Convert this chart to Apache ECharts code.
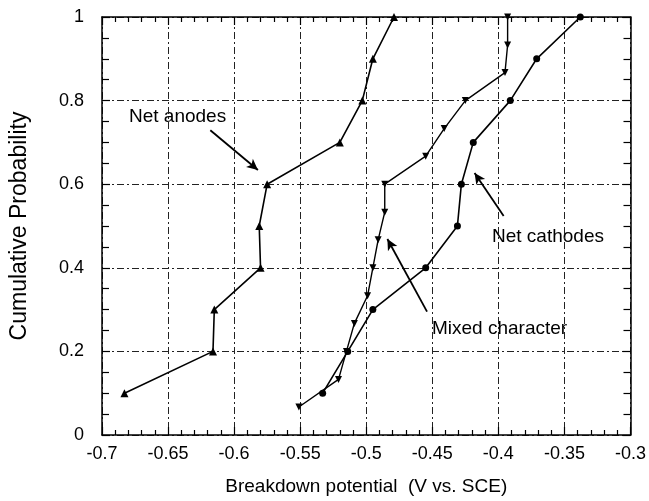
<!DOCTYPE html>
<html>
<head>
<meta charset="utf-8">
<script src="https://cdn.jsdelivr.net/npm/echarts@6/dist/echarts.min.js"></script>
<style>html,body{margin:0;padding:0;background:#fff}#c{width:649px;height:501px}</style>
</head>
<body>
<div id="c"></div>
<script>
// ---- data ----
const anodesX = [-0.683, -0.616, -0.615, -0.580, -0.581, -0.575, -0.520, -0.503, -0.495, -0.479];
const anodesY = [0.1, 0.2, 0.3, 0.4, 0.5, 0.6, 0.7, 0.8, 0.9, 1.0];
const mixedX = [-0.551, -0.521, -0.515, -0.509, -0.499, -0.495, -0.491, -0.486, -0.486, -0.455, -0.441, -0.425, -0.395, -0.393, -0.393];
const mixedY = [0.067, 0.133, 0.2, 0.267, 0.333, 0.4, 0.467, 0.533, 0.6, 0.667, 0.733, 0.8, 0.867, 0.933, 1.0];
const cathodesX = [-0.533, -0.514, -0.495, -0.455, -0.431, -0.428, -0.419, -0.391, -0.371, -0.338];
const cathodesY = [0.1, 0.2, 0.3, 0.4, 0.5, 0.6, 0.7, 0.8, 0.9, 1.0];
const xTickLabels = ['-0.7','-0.65','-0.6','-0.55','-0.5','-0.45','-0.4','-0.35','-0.3'];
const yTickLabels = ['0','0.2','0.4','0.6','0.8','1'];
const xTitle = 'Breakdown potential  (V vs. SCE)';
const yTitle = 'Cumulative Probability';
// annotation arrows (data coordinates: from -> to)
const arrowAnodes = [[-0.618, 0.729], [-0.582, 0.634]];
const arrowCathodes = [[-0.396, 0.524], [-0.418, 0.627]];
const arrowMixed = [[-0.454, 0.295], [-0.484, 0.469]];

const zip = (xs, ys) => xs.map((x, i) => [x, ys[i]]);
const FONT = '"Liberation Sans", Arial, sans-serif';
const fmtX = v => String(+(+v).toFixed(2));
const fmtY = v => String(+(+v).toFixed(2));
const gridDash = [7, 3, 2, 3];

const chart = echarts.init(document.getElementById('c'), null, {renderer: 'canvas'});
const baseX = {
  type: 'value', min: -0.7, max: -0.3, interval: 0.05,
  axisLine: {show: true, onZero: false, lineStyle: {color: '#000', width: 1.5}},
  axisTick: {show: true, inside: true, length: 8, lineStyle: {color: '#000', width: 1.2}},
  minorTick: {show: true, splitNumber: 5, length: 5, lineStyle: {color: '#000', width: 1.2}},
};
const baseY = {
  type: 'value', min: 0, max: 1, interval: 0.2,
  axisLine: {show: true, onZero: false, lineStyle: {color: '#000', width: 1.5}},
  axisTick: {show: true, inside: true, length: 8, lineStyle: {color: '#000', width: 1.2}},
  minorTick: {show: true, splitNumber: 4, length: 7, lineStyle: {color: '#000', width: 1.2}},
};
const arrowLine = (a) => [{coord: a[0]}, {coord: a[1]}];

chart.setOption({
  animation: false,
  backgroundColor: '#fff',
  grid: {left: 99, right: 16, top: 17, bottom: 60},
  xAxis: [
    Object.assign({}, baseX, {
      position: 'bottom',
      name: xTitle, nameLocation: 'middle', nameGap: 42,
      nameTextStyle: {fontFamily: FONT, fontSize: 19, color: '#000'},
      axisLabel: {show: true, formatter: fmtX, fontFamily: FONT, fontSize: 18, color: '#000', margin: 10},
      splitLine: {show: true, lineStyle: {color: '#222', width: 1, type: gridDash}},
    }),
    Object.assign({}, baseX, {
      position: 'top',
      axisLabel: {show: false},
      splitLine: {show: false},
    }),
  ],
  yAxis: [
    Object.assign({}, baseY, {
      position: 'left',
      name: yTitle, nameLocation: 'middle', nameGap: 71, nameRotate: 90,
      nameTextStyle: {fontFamily: FONT, fontSize: 23, color: '#000'},
      axisLabel: {show: true, formatter: fmtY, fontFamily: FONT, fontSize: 18, color: '#000', margin: 18},
      splitLine: {show: true, lineStyle: {color: '#222', width: 1, type: gridDash}},
    }),
    Object.assign({}, baseY, {
      position: 'right',
      axisLabel: {show: false},
      splitLine: {show: false},
    }),
  ],
  series: [
    {
      name: 'Net anodes', type: 'line', data: zip(anodesX, anodesY),
      symbol: 'triangle', symbolSize: 8, clip: false,
      lineStyle: {color: '#000', width: 1.6}, itemStyle: {color: '#000'},
      markLine: {
        silent: true, symbol: ['none', 'arrow'], symbolSize: [8, 11],
        lineStyle: {color: '#000', width: 1.8, type: 'solid'},
        label: {show: false},
        data: [arrowLine(arrowAnodes), arrowLine(arrowCathodes), arrowLine(arrowMixed)],
      },
    },
    {
      name: 'Mixed character', type: 'line', data: zip(mixedX, mixedY),
      symbol: 'triangle', symbolRotate: 180, symbolSize: 7, clip: false,
      lineStyle: {color: '#000', width: 1.4}, itemStyle: {color: '#000'},
    },
    {
      name: 'Net cathodes', type: 'line', data: zip(cathodesX, cathodesY),
      symbol: 'circle', symbolSize: 7, clip: false,
      lineStyle: {color: '#000', width: 1.6}, itemStyle: {color: '#000'},
    },
  ],
  graphic: [
    {type: 'text', left: 129, top: 107, style: {text: 'Net anodes', font: '19px ' + FONT, fill: '#000'}},
    {type: 'text', left: 492, top: 227, style: {text: 'Net cathodes', font: '19px ' + FONT, fill: '#000'}},
    {type: 'text', left: 432, top: 319, style: {text: 'Mixed character', font: '19px ' + FONT, fill: '#000'}},
  ],
});
</script>
</body>
</html>
